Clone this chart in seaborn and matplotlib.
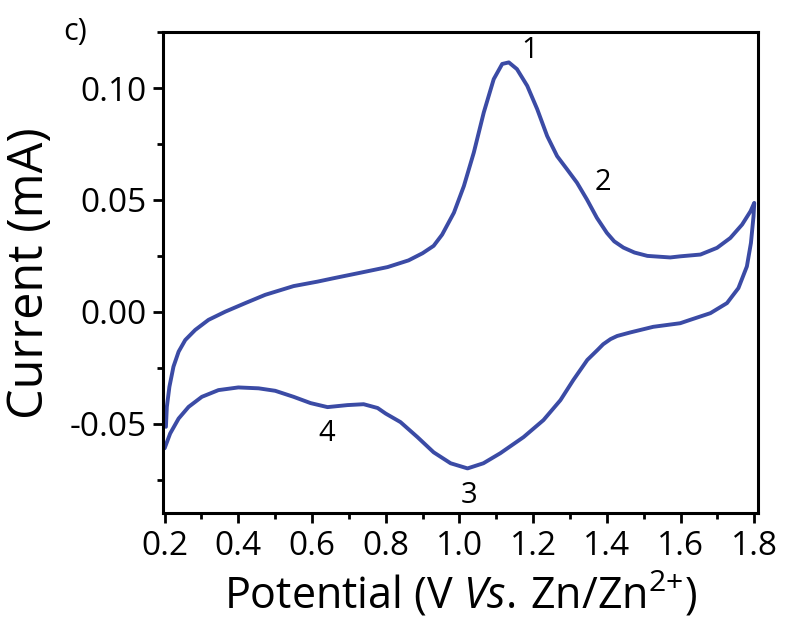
import numpy as np
import pandas as pd
import matplotlib
matplotlib.use("Agg")
import matplotlib.pyplot as plt
from matplotlib.ticker import MultipleLocator, FixedLocator
import seaborn as sns

# Anodic sweep (0.2 V -> 1.8 V)
anodic_v = [0.2035, 0.206, 0.213, 0.224, 0.238, 0.256, 0.283, 0.319, 0.365, 0.419,
            0.473, 0.550, 0.615, 0.658, 0.732, 0.805, 0.862, 0.900, 0.930, 0.953,
            0.985, 1.012, 1.039, 1.066, 1.093, 1.116, 1.134, 1.156, 1.184, 1.211,
            1.238, 1.265, 1.292, 1.319, 1.346, 1.373, 1.400, 1.420, 1.445, 1.475,
            1.510, 1.572, 1.599, 1.654, 1.699, 1.735, 1.767, 1.790, 1.800]
anodic_i = [-0.0514, -0.0425, -0.0335, -0.0245, -0.0178, -0.0126, -0.0081, -0.0036, 0.0001, 0.0039,
            0.0076, 0.0115, 0.0135, 0.0150, 0.0175, 0.0200, 0.0230, 0.0262, 0.0295, 0.0345,
            0.0443, 0.0562, 0.0712, 0.0891, 0.1040, 0.1108, 0.1115, 0.1085, 0.1010, 0.0906,
            0.0786, 0.0696, 0.0637, 0.0577, 0.0502, 0.0420, 0.0353, 0.0315, 0.0287, 0.0265,
            0.0250, 0.0243, 0.0248, 0.0256, 0.0286, 0.0330, 0.0390, 0.0450, 0.0487]

# Cathodic sweep (1.8 V -> 0.2 V)
cathodic_v = [1.800, 1.798, 1.791, 1.780, 1.757, 1.726, 1.681, 1.626, 1.599, 1.526,
              1.464, 1.428, 1.410, 1.390, 1.375, 1.347, 1.309, 1.274, 1.228, 1.174,
              1.111, 1.065, 1.022, 0.976, 0.930, 0.886, 0.840, 0.800, 0.778, 0.740,
              0.696, 0.642, 0.596, 0.550, 0.500, 0.455, 0.400, 0.346, 0.301, 0.265,
              0.238, 0.215, 0.200]
cathodic_i = [0.0487, 0.0427, 0.0308, 0.0203, 0.0106, 0.0039, -0.0006, -0.0036, -0.0051, -0.0067,
              -0.0092, -0.0108, -0.0122, -0.0145, -0.0170, -0.0215, -0.0305, -0.0395, -0.0484, -0.0560,
              -0.0632, -0.0677, -0.0700, -0.0677, -0.0628, -0.0560, -0.0493, -0.0455, -0.0430, -0.0413,
              -0.0417, -0.0426, -0.0408, -0.0380, -0.0353, -0.0342, -0.0338, -0.0350, -0.0380, -0.0425,
              -0.0477, -0.0544, -0.0610]

peak_labels = ["1", "2", "3", "4"]
peak_xy = [(1.19, 0.117), (1.39, 0.058), (1.025, -0.082), (0.64, -0.0545)]

x_major = [0.2, 0.4, 0.6, 0.8, 1.0, 1.2, 1.4, 1.6, 1.8]
y_major = [-0.05, 0.00, 0.05, 0.10]
y_ticklabels = ["-0.05", "0.00", "0.05", "0.10"]

sns.set_theme(style="ticks")
plt.rcParams["font.family"] = ["Open Sans", "DejaVu Sans"]
plt.rcParams["mathtext.fontset"] = "custom"
plt.rcParams["mathtext.rm"] = "Open Sans"
plt.rcParams["mathtext.it"] = "Open Sans:italic"
plt.rcParams["text.color"] = "black"
plt.rcParams["axes.labelcolor"] = "black"

cv = pd.DataFrame({
    "potential": anodic_v + cathodic_v,
    "current": anodic_i + cathodic_i,
})

fig = plt.figure(figsize=(7.92, 6.19), dpi=100)
ax = fig.add_axes([0.206, 0.171, 0.751, 0.777])

sns.lineplot(data=cv, x="potential", y="current", sort=False, estimator=None,
             color="#3B4BA5", linewidth=2.8, ax=ax)

ax.set_xlim(0.196, 1.81)
ax.set_ylim(-0.090, 0.125)

ax.xaxis.set_major_locator(FixedLocator(x_major))
ax.xaxis.set_minor_locator(MultipleLocator(0.1))
ax.set_xticklabels([f"{v:.1f}" for v in x_major])
ax.yaxis.set_major_locator(FixedLocator(y_major))
ax.yaxis.set_minor_locator(MultipleLocator(0.025))
ax.set_yticklabels(y_ticklabels)

ax.tick_params(axis="both", which="major", direction="out", length=7, width=2,
               labelsize=24, color="black", labelcolor="black", pad=5)
ax.tick_params(axis="both", which="minor", direction="out", length=4.5, width=2,
               color="black")
ax.tick_params(top=False, right=False, which="both")

for side in ["left", "right", "top", "bottom"]:
    ax.spines[side].set_visible(True)
    ax.spines[side].set_linewidth(2.2)
    ax.spines[side].set_color("black")

ax.set_xlabel(r"Potential (V $\mathit{Vs.}\,$Zn/Zn$^{\text{2+}}$)", fontsize=31, labelpad=5)
ax.set_ylabel("Current (mA)", fontsize=35, labelpad=10)

for lab, (px, py) in zip(peak_labels, peak_xy):
    ax.text(px, py, lab, fontsize=21, ha="center", va="center", color="black")

fig.text(0.095, 0.948, "c)", fontsize=22, ha="center", va="center", color="black")

fig.savefig("out.png", dpi=100)
